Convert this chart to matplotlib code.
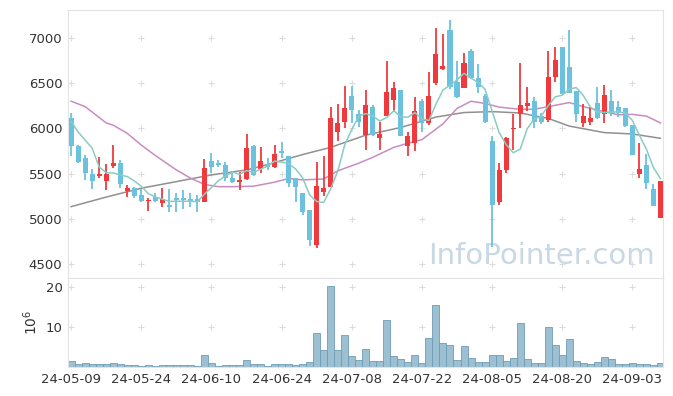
import numpy as np
import matplotlib
matplotlib.use('Agg')
import matplotlib.pyplot as plt
import pandas as pd

# KRX trading days 2024-05-09 .. 2024-09-09 (holidays: 05-15, 06-06, 08-15)
holidays = ["2024-05-15", "2024-06-06", "2024-08-15"]
days = pd.bdate_range("2024-05-09", "2024-09-09")
days = days[~days.isin(pd.to_datetime(holidays))]
labels = [d.strftime("%y-%m-%d") for d in days]

opens = [6110, 5810, 5670, 5495, 5475, 5420, 5585, 5620, 5305, 5340,
         5265, 5195, 5240, 5170, 5155, 5230, 5225, 5215, 5220, 5190,
         5640, 5620, 5595, 5455, 5410, 5440, 5805, 5550, 5605, 5570,
         5750, 5690, 5450, 5280, 5100, 4710, 5300, 5355, 5955, 6065,
         6360, 6160, 5925, 6235, 5890, 6140, 6315, 6420, 5800, 5835,
         6305, 6055, 6500, 6655, 7090, 6515, 6450, 6855, 6560, 6360,
         5855, 5190, 5535, 5990, 6160, 6250, 6305, 6135, 6095, 6570,
         6895, 6680, 6415, 6055, 6065, 6280, 6160, 6305, 6235, 6220,
         6040, 5495, 5595, 5325, 5005]
highs = [6170, 5820, 5705, 5550, 5680, 5605, 5815, 5650, 5375, 5355,
         5330, 5225, 5280, 5340, 5325, 5280, 5320, 5285, 5265, 5660,
         5730, 5650, 5630, 5505, 5520, 5940, 5815, 5790, 5670, 5815,
         5845, 5690, 5450, 5280, 5100, 5630, 5690, 6240, 6270, 6470,
         6470, 6205, 6425, 6260, 6075, 6740, 6515, 6425, 5955, 6350,
         6325, 6620, 7105, 7040, 7200, 6740, 6830, 6880, 6710, 6380,
         5910, 5615, 5900, 6155, 6725, 6455, 6350, 6175, 6860, 6895,
         6900, 7090, 6415, 6270, 6235, 6460, 6480, 6425, 6305, 6225,
         6040, 5835, 5715, 5385, 5420]
lows = [5690, 5620, 5430, 5330, 5450, 5320, 5560, 5345, 5240, 5230,
        5190, 5090, 5180, 5135, 5070, 5070, 5105, 5135, 5070, 5190,
        5505, 5575, 5420, 5395, 5320, 5430, 5475, 5505, 5540, 5560,
        5670, 5350, 5190, 5040, 4700, 4675, 5250, 5355, 5865, 6000,
        6055, 6010, 5760, 5910, 5760, 6135, 6185, 5910, 5690, 5750,
        5955, 6040, 6480, 6645, 6435, 6340, 6445, 6545, 6390, 6055,
        4690, 5155, 5510, 5760, 6000, 6195, 6000, 6050, 6075, 6515,
        6375, 6390, 6075, 6020, 6040, 6100, 6055, 6135, 6125, 6020,
        5705, 5450, 5325, 5145, 5005]
closes = [5810, 5630, 5505, 5420, 5495, 5495, 5620, 5385, 5340, 5255,
          5200, 5210, 5200, 5215, 5135, 5210, 5210, 5200, 5185, 5560,
          5570, 5595, 5450, 5410, 5430, 5780, 5485, 5640, 5570, 5715,
          5725, 5395, 5350, 5080, 4765, 5365, 5340, 6110, 6055, 6220,
          6205, 6075, 6260, 5925, 5940, 6405, 6445, 5915, 5910, 6195,
          6055, 6360, 6820, 6690, 6460, 6350, 6720, 6555, 6460, 6075,
          5150, 5535, 5890, 6005, 6260, 6285, 6065, 6065, 6570, 6755,
          6380, 6395, 6155, 6135, 6110, 6110, 6370, 6165, 6165, 6030,
          5705, 5550, 5400, 5145, 5420]
# volume, millions of shares
volume = [1.45, 0.7, 0.9, 0.7, 0.7, 0.7, 1.1, 0.7, 0.4, 0.4,
          0.15, 0.4, 0.2, 0.4, 0.4, 0.4, 0.4, 0.4, 0.2, 2.9,
          0.9, 0.2, 0.4, 0.4, 0.4, 1.7, 0.7, 0.7, 0.2, 0.7,
          0.7, 0.7, 0.5, 0.7, 1.2, 8.6, 4.3, 20.4, 4.3, 7.9,
          2.8, 1.8, 4.6, 1.5, 1.5, 11.7, 2.8, 2.0, 1.3, 3.0,
          1.0, 7.3, 15.5, 6.1, 5.6, 1.8, 5.3, 2.3, 1.3, 1.3,
          3.1, 2.9, 1.6, 2.3, 10.9, 2.1, 1.0, 1.0, 10.0, 5.4,
          3.1, 7.1, 1.6, 1.0, 0.8, 1.2, 2.5, 2.1, 0.8, 0.8,
          1.0, 0.8, 0.8, 0.5, 1.0]

# first few 5-day averages need earlier prices
ma5_head = [6075, 5960, 5870, 5780]
ma20_idx = [0, 2, 5, 6, 8, 10, 12, 15, 17, 19, 21, 23, 26, 29, 31, 33, 36, 38,
            41, 43, 46, 48, 50, 53, 55, 57, 59, 61, 64, 66, 69, 71, 73, 76, 78,
            80, 82, 84]
ma20_val = [6300, 6240, 6060, 6035, 5945, 5815, 5700, 5540, 5450, 5380, 5355,
            5355, 5360, 5405, 5445, 5430, 5440, 5530, 5615, 5680, 5790, 5835,
            5875, 6050, 6220, 6300, 6275, 6235, 6211, 6211, 6255, 6285, 6240,
            6185, 6150, 6155, 6135, 6060]
ma60_idx = [0, 5, 10, 15, 20, 25, 28, 33, 37, 42, 47, 52, 56, 60, 64, 68, 71,
            76, 80, 84]
ma60_val = [5134, 5240, 5338, 5411, 5485, 5540, 5600, 5710, 5790, 5925, 6010,
            6125, 6175, 6185, 6170, 6110, 6025, 5953, 5938, 5890]

tick_idx = list(range(0, 81, 10))
price_ticks = [4500, 5000, 5500, 6000, 6500, 7000]
vol_ticks = [10, 20]

RED = '#f0393d'
BLUE = '#6cc2de'
SPINE = '#e3e3e3'

o = np.array(opens, float)
h = np.array(highs, float)
l = np.array(lows, float)
c = np.array(closes, float)
x = np.arange(len(c))
up = c >= o
col = np.where(up, RED, BLUE)

ma5 = pd.Series(c).rolling(5).mean().to_numpy()
ma5[:4] = ma5_head

fig = plt.figure(figsize=(6.73, 3.96), dpi=100)
ax = fig.add_axes([0.101, 0.298, 0.884, 0.677])
axv = fig.add_axes([0.101, 0.0732, 0.884, 0.225], sharex=ax)

ax.text(0.987, 0.082, 'InfoPointer.com', transform=ax.transAxes, ha='right',
        va='center', fontsize=21, color='#c8d8e4', zorder=0)

for xi in tick_idx:
    ax.scatter([xi] * len(price_ticks), price_ticks, marker='+', s=14,
               color='#dcdcdc', linewidths=0.8, zorder=0)
    axv.scatter([xi] * len(vol_ticks), vol_ticks, marker='+', s=14,
                color='#dcdcdc', linewidths=0.8, zorder=0)

ax.plot(ma60_idx, ma60_val, color='#909090', lw=1.1, zorder=2)
ax.plot(ma20_idx, ma20_val, color='#c98cc2', lw=1.1, zorder=2)

ax.vlines(x, l, h, colors=col, linewidth=1.3, zorder=3)
body = np.maximum(np.abs(c - o), 12)
ax.bar(x, body, bottom=np.minimum(o, c), width=0.72, color=col, zorder=4)
ax.plot(x, ma5, color='#8accc3', lw=1.1, zorder=5)

axv.bar(x, volume, width=1.0, color='#9cc0d1', edgecolor='#6d9db7',
        linewidth=0.6)

ax.set_xlim(-0.45, 84.35)
ax.set_ylim(4345, 7310)
ax.set_yticks(price_ticks)
axv.set_ylim(0, 22.3)
axv.set_yticks(vol_ticks)
axv.set_xticks(tick_idx)
axv.set_xticklabels([labels[i] for i in tick_idx])
axv.set_ylabel(r'10$^6$', fontsize=10, color='#333333', labelpad=4)
plt.setp(ax.get_xticklabels(), visible=False)

for a in (ax, axv):
    for s in a.spines.values():
        s.set_color(SPINE)
    a.tick_params(length=0, labelsize=9.5, colors='#333333', pad=4)

plt.savefig('out.png', dpi=100)
